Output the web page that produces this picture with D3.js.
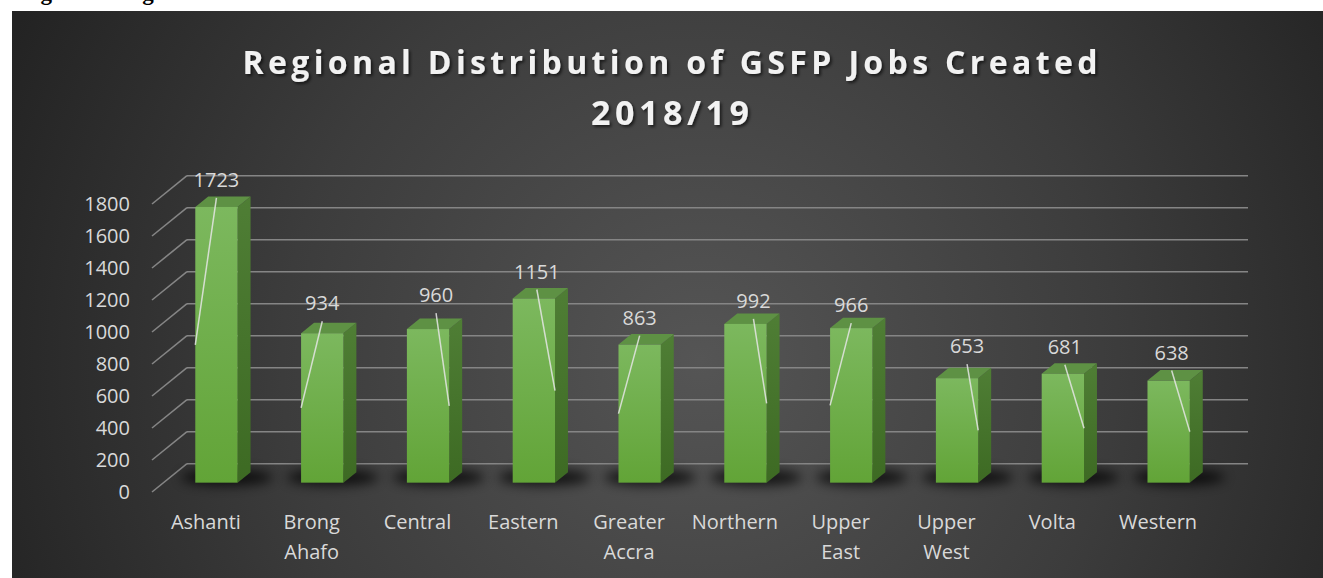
<!DOCTYPE html>
<html>
<head>
<meta charset="utf-8">
<script src="https://cdn.jsdelivr.net/npm/d3@7"></script>
<style>
  html, body { margin: 0; padding: 0; background: #fff; }
  svg { display: block; }
</style>
</head>
<body>
<svg id="chart" width="1323" height="578"></svg>
<script>
// data
var categories = ["Ashanti", "Brong Ahafo", "Central", "Eastern", "Greater Accra",
                  "Northern", "Upper East", "Upper West", "Volta", "Western"];
var jobs = [1723, 934, 960, 1151, 863, 992, 966, 653, 681, 638];
var yTicks = [0, 200, 400, 600, 800, 1000, 1200, 1400, 1600, 1800];

// which side of the bar each leader line runs to, and small label nudges (layout)
var leaderSide = ["L", "L", "R", "R", "L", "R", "L", "R", "R", "R"];
var labelNudge = [[0, 0], [0, -3], [8, -7], [3, 0], [0, 0], [8, 4], [0, 4], [10, -5], [2, 0], [3, -1]];

var svg = d3.select("#chart");
var defs = svg.append("defs");

// 3d look: depth 0 = front of floor, 1 = back wall
var DX = 35, DY = -28.3;
function P(x, y, d) { return [x + DX * d, y + DY * d]; }

var x = d3.scaleBand().domain(categories).range([152, 1210]);
var y = d3.scaleLinear().domain([0, 1800]).range([492, 204]);

var bw = x.bandwidth(),
    d0 = 0.33, d1 = 0.70;

// caption line above the chart, cut off by the page top as in the source
svg.append("text")
  .attr("x", 20).attr("y", 0)
  .attr("font-family", "Liberation Serif, serif")
  .attr("font-weight", "bold")
  .attr("font-size", 23)
  .attr("fill", "#000")
  .text("Figure 4: Regional Distribution of GSFP Jobs Created 2018/19");

// background
var bg = defs.append("radialGradient").attr("id", "bg")
  .attr("gradientUnits", "userSpaceOnUse")
  .attr("cx", 700).attr("cy", 360).attr("r", 760);
bg.append("stop").attr("offset", "0").attr("stop-color", "#555555");
bg.append("stop").attr("offset", "0.55").attr("stop-color", "#3c3c3c");
bg.append("stop").attr("offset", "1").attr("stop-color", "#232323");

svg.append("rect")
  .attr("x", 12).attr("y", 11)
  .attr("width", 1311).attr("height", 567)
  .attr("fill", "url(#bg)");

// filters
var blur = defs.append("filter").attr("id", "blur")
  .attr("x", "-50%").attr("y", "-100%").attr("width", "200%").attr("height", "300%");
blur.append("feGaussianBlur").attr("stdDeviation", 6);

var ts = defs.append("filter").attr("id", "tshadow")
  .attr("x", "-10%").attr("y", "-30%").attr("width", "120%").attr("height", "160%");
ts.append("feDropShadow").attr("dx", 2).attr("dy", 2).attr("stdDeviation", 1.5)
  .attr("flood-color", "#000").attr("flood-opacity", 0.6);

var gFront = defs.append("linearGradient").attr("id", "gFront")
  .attr("x1", 0).attr("y1", 0).attr("x2", 0).attr("y2", 1);
gFront.append("stop").attr("offset", "0").attr("stop-color", "#7cb85e");
gFront.append("stop").attr("offset", "1").attr("stop-color", "#62a437");

var gSide = defs.append("linearGradient").attr("id", "gSide")
  .attr("x1", 0).attr("y1", 0).attr("x2", 0).attr("y2", 1);
gSide.append("stop").attr("offset", "0").attr("stop-color", "#4f7e35");
gSide.append("stop").attr("offset", "1").attr("stop-color", "#3d6a23");

// gridlines on the back wall and the left side
var grid = svg.append("g")
  .attr("stroke", "#858585")
  .attr("stroke-width", 1.6)
  .attr("fill", "none");

grid.selectAll("line.back")
  .data(yTicks)
  .join("line")
  .attr("class", "back")
  .attr("x1", function(t) { return P(x.range()[0], y(t), 1)[0]; })
  .attr("x2", function(t) { return P(x.range()[1] + 3, y(t), 1)[0]; })
  .attr("y1", function(t) { return P(0, y(t), 1)[1]; })
  .attr("y2", function(t) { return P(0, y(t), 1)[1]; });

grid.selectAll("line.side")
  .data(yTicks)
  .join("line")
  .attr("class", "side")
  .attr("x1", function(t) { return P(x.range()[0], y(t), 0)[0]; })
  .attr("y1", function(t) { return P(x.range()[0], y(t), 0)[1]; })
  .attr("x2", function(t) { return P(x.range()[0], y(t), 1)[0]; })
  .attr("y2", function(t) { return P(x.range()[0], y(t), 1)[1]; });

// floor shadows
svg.append("g").selectAll("ellipse")
  .data(categories)
  .join("ellipse")
  .attr("cx", function(c) { return x(c) + bw / 2 + 22; })
  .attr("cy", P(0, y(0), 0.52)[1])
  .attr("rx", 46)
  .attr("ry", 8)
  .attr("fill", "#000")
  .attr("opacity", 0.75)
  .attr("filter", "url(#blur)");

// bars
function poly(pts) { return pts.map(function(p) { return p.join(","); }).join(" "); }

var bars = svg.append("g").selectAll("g")
  .data(categories)
  .join("g");

bars.each(function(c, i) {
  var g = d3.select(this),
      xl = x(c) + bw * 0.3,
      xr = xl + bw * 0.4,
      y0 = y(0),
      yv = y(jobs[i]);

  g.append("polygon")
    .attr("points", poly([P(xr, y0, d0), P(xr, yv, d0), P(xr, yv, d1), P(xr, y0, d1)]))
    .attr("fill", "url(#gSide)");

  g.append("polygon")
    .attr("points", poly([P(xl, yv, d0), P(xr, yv, d0), P(xr, yv, d1), P(xl, yv, d1)]))
    .attr("fill", "#5e9144");

  var f0 = P(xl, yv, d0), f1 = P(xr, y0, d0);
  g.append("rect")
    .attr("x", f0[0]).attr("y", f0[1])
    .attr("width", f1[0] - f0[0])
    .attr("height", f1[1] - f0[1])
    .attr("fill", "url(#gFront)");
});

// data labels with leader lines
var labels = svg.append("g");

categories.forEach(function(c, i) {
  var xl = x(c) + bw * 0.3,
      xr = xl + bw * 0.4,
      top = P(xl, y(jobs[i]), d0),
      cx = P(xl + bw * 0.2, 0, d0)[0] + labelNudge[i][0],
      cy = top[1] - 27 + labelNudge[i][1],
      end = P(leaderSide[i] == "L" ? xl : xr, y(jobs[i] / 2), d0);

  labels.append("line")
    .attr("x1", cx).attr("y1", cy + 18)
    .attr("x2", end[0]).attr("y2", end[1])
    .attr("stroke", "#e6e6e6")
    .attr("stroke-width", 1.5)
    .attr("opacity", 0.85);

  labels.append("text")
    .attr("x", cx).attr("y", cy)
    .attr("dy", "0.36em")
    .attr("text-anchor", "middle")
    .attr("font-family", "Open Sans, sans-serif")
    .attr("font-size", 20)
    .attr("fill", "#d9d9d9")
    .text(d3.format("d")(jobs[i]));
});

// y axis labels
svg.append("g").selectAll("text")
  .data(yTicks)
  .join("text")
  .attr("x", 130)
  .attr("y", function(t) { return y(t); })
  .attr("dy", "0.36em")
  .attr("text-anchor", "end")
  .attr("font-family", "Open Sans, sans-serif")
  .attr("font-size", 20)
  .attr("fill", "#d9d9d9")
  .text(function(t) { return t; });

// category labels
svg.append("g").selectAll("text")
  .data(categories)
  .join("text")
  .attr("x", function(c) { return x(c) + bw / 2 + 1; })
  .attr("y", 522)
  .attr("text-anchor", "middle")
  .attr("font-family", "Open Sans, sans-serif")
  .attr("font-size", 20)
  .attr("fill", "#d9d9d9")
  .each(function(c) {
    var t = d3.select(this);
    c.split(" ").forEach(function(w, k) {
      t.append("tspan")
        .attr("x", t.attr("x"))
        .attr("dy", k == 0 ? "0.36em" : 30)
        .text(w);
    });
  });

// title, spaced out to fit the reference width
var titleLines = [
  {text: "Regional Distribution of GSFP Jobs Created", size: 32, base: 74, width: 855},
  {text: "2018/19", size: 34, base: 125, width: 158}
];

titleLines.forEach(function(l) {
  var t = svg.append("text")
    .attr("x", 670).attr("y", l.base)
    .attr("text-anchor", "middle")
    .attr("font-family", "Open Sans, sans-serif")
    .attr("font-weight", "bold")
    .attr("font-size", l.size)
    .attr("fill", "#f2f2f2")
    .attr("filter", "url(#tshadow)")
    .text(l.text);
  var w = t.node().getComputedTextLength(),
      ls = Math.max(0, (l.width - w) / (l.text.length - 1));
  t.attr("letter-spacing", ls).attr("x", 670 + ls / 2);
});
</script>
</body>
</html>
